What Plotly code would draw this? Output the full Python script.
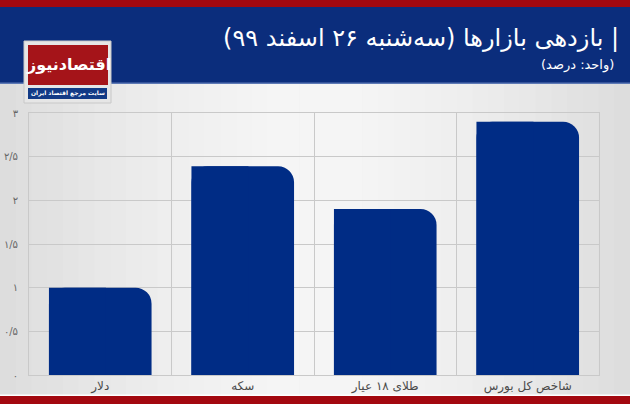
import plotly.graph_objects as go

categories = ["دلار", "سکه", "طلای ۱۸ عیار", "شاخص کل بورس"]
values = [1.0, 2.39, 1.9, 2.9]
tick_vals = [0, 0.5, 1, 1.5, 2, 2.5, 3]
tick_text = ["۰", "۰/۵", "۱", "۱/۵", "۲", "۲/۵", "۳"]
title_text = "| بازدهی بازارها (سه‌شنبه ۲۶ اسفند ۹۹)"
subtitle_text = "(واحد: درصد)"
logo_text = "اقتصادنیوز"
logo_sub = "سایت مرجع اقتصاد ایران"

RLE, PDF = "\u202b", "\u202c"
def rtl(s):
    return RLE + s + PDF

W, H = 630, 404
L, R, T, B = 29, 31, 113, 29
PW, PH = W - L - R, H - T - B

def fx(p):
    return (p - L) / PW

def fy(p):
    return (H - B - p) / PH

FONT = "DejaVu Sans"
BAR = "#002c85"

xs = [rtl(c) for c in categories]
fig = go.Figure()
# full-width bars, rounded top corners
fig.add_trace(go.Bar(
    x=xs, y=values, width=0.72,
    marker=dict(color=BAR, cornerradius=16, line=dict(width=0)),
    hoverinfo="skip", showlegend=False,
))
# square left half overlay -> only the top-right corner stays rounded
fig.add_trace(go.Bar(
    x=xs, y=values, width=0.4, offset=-0.36,
    marker=dict(color=BAR, cornerradius=0, line=dict(width=0)),
    hoverinfo="skip", showlegend=False,
))

shapes = []
N = 40
for i in range(N):
    t = (i + 0.5) / N
    d = abs(t - 0.5) * 2
    g = int(246 - 26 * d ** 1.6)
    col = f"rgb({g},{g},{g})"
    shapes.append(dict(type="rect", xref="paper", yref="paper",
                       x0=fx(i * W / N), x1=fx((i + 1) * W / N + 0.5),
                       y0=fy(396), y1=fy(83), fillcolor=col, line=dict(width=0),
                       layer="below"))
shapes.append(dict(type="rect", xref="paper", yref="paper", x0=fx(0), x1=fx(W),
                   y0=fy(7), y1=fy(0), fillcolor="#a3080f", line=dict(width=0), layer="below"))
shapes.append(dict(type="rect", xref="paper", yref="paper", x0=fx(0), x1=fx(W),
                   y0=fy(83), y1=fy(7), fillcolor="#0b2d7c", line=dict(width=0), layer="below"))
shapes.append(dict(type="rect", xref="paper", yref="paper", x0=fx(0), x1=fx(W),
                   y0=fy(84), y1=fy(82.5), fillcolor="#5d79b5", line=dict(width=0), layer="below"))
shapes.append(dict(type="rect", xref="paper", yref="paper", x0=fx(0), x1=fx(W),
                   y0=fy(396), y1=fy(394.5), fillcolor="#ffffff", line=dict(width=0), layer="below"))
shapes.append(dict(type="rect", xref="paper", yref="paper", x0=fx(0), x1=fx(W),
                   y0=fy(404), y1=fy(396), fillcolor="#a3080f", line=dict(width=0), layer="below"))
shapes.append(dict(type="rect", xref="paper", yref="paper", x0=fx(24), x1=fx(111),
                   y0=fy(103), y1=fy(41), fillcolor="#e6e6e6", line=dict(width=1, color="#c8c8c8"),
                   layer="above"))
shapes.append(dict(type="rect", xref="paper", yref="paper", x0=fx(28), x1=fx(108),
                   y0=fy(85), y1=fy(45), fillcolor="#a51419", line=dict(width=0), layer="above"))
shapes.append(dict(type="rect", xref="paper", yref="paper", x0=fx(28), x1=fx(107),
                   y0=fy(99), y1=fy(88), fillcolor="#123a86", line=dict(width=0), layer="above"))

annotations = [
    dict(text=rtl(title_text), xref="paper", yref="paper", x=fx(621), y=fy(38),
         xanchor="right", yanchor="middle", showarrow=False,
         font=dict(family=FONT, size=24, color="white")),
    dict(text=rtl(subtitle_text), xref="paper", yref="paper", x=fx(616), y=fy(65),
         xanchor="right", yanchor="middle", showarrow=False,
         font=dict(family=FONT, size=13, color="white")),
    dict(text="<b>" + rtl(logo_text) + "</b>", xref="paper", yref="paper", x=fx(68), y=fy(65),
         xanchor="center", yanchor="middle", showarrow=False,
         font=dict(family=FONT, size=16, color="white")),
    dict(text="<b>" + rtl(logo_sub) + "</b>", xref="paper", yref="paper", x=fx(67.5), y=fy(93.5),
         xanchor="center", yanchor="middle", showarrow=False,
         font=dict(family=FONT, size=6, color="white")),
]

fig.update_layout(
    width=W, height=H,
    margin=dict(l=L, r=R, t=T, b=B, pad=0, autoexpand=False),
    paper_bgcolor="#e2e2e2",
    plot_bgcolor="rgba(0,0,0,0)",
    barmode="overlay",
    shapes=shapes,
    annotations=annotations,
    font=dict(family=FONT),
    xaxis=dict(type="category", tickson="boundaries", showgrid=True, automargin=False,
               gridcolor="#c9c9c9", gridwidth=1, ticks="", showline=True,
               linecolor="#c9c9c9", mirror=True,
               tickfont=dict(family=FONT, size=12, color="#4a4a4a")),
    yaxis=dict(range=[0, 3], tickvals=tick_vals, ticktext=tick_text, automargin=False,
               showgrid=True, gridcolor="#c9c9c9", gridwidth=1, zeroline=False,
               showline=True, linecolor="#c9c9c9", mirror=True, ticks="",
               ticklabelstandoff=8,
               tickfont=dict(family=FONT, size=10, color="#666666")),
)

fig.write_html("out.html", config={"displayModeBar": False},
               post_script="document.body.style.margin='0';document.body.style.overflow='hidden';")
